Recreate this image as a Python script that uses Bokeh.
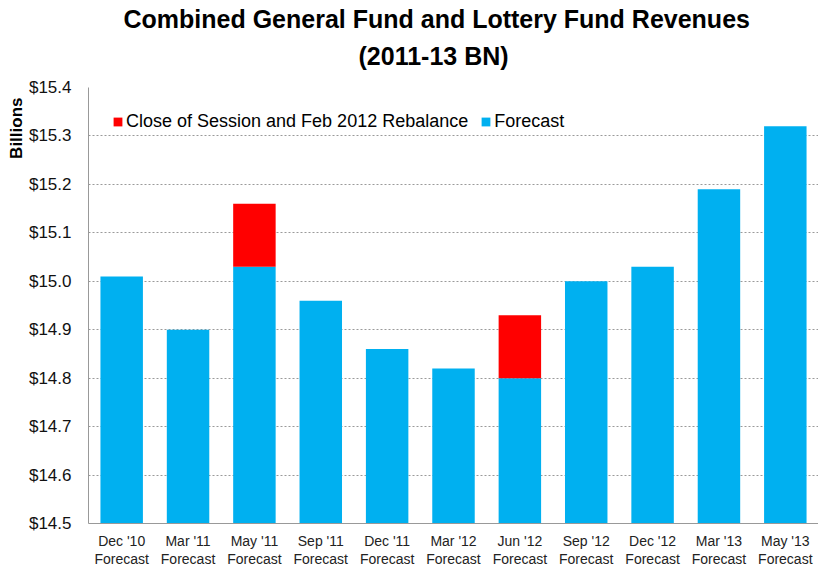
from bokeh.plotting import figure
from bokeh.models import (ColumnDataSource, Legend, LegendItem, Range1d,
                          NumeralTickFormatter, Title, LinearAxis, FixedTicker,
                          CustomJSTickFormatter)
from bokeh.embed import file_html
from bokeh.resources import INLINE

categories = ["Dec '10", "Mar '11", "May '11", "Sep '11", "Dec '11", "Mar '12",
              "Jun '12", "Sep '12", "Dec '12", "Mar '13", "May '13"]
forecast = [15.01, 14.90, 15.03, 14.96, 14.86, 14.82, 14.80, 15.00, 15.03, 15.19, 15.32]
rebalance = [0.0, 0.0, 0.13, 0.0, 0.0, 0.0, 0.13, 0.0, 0.0, 0.0, 0.0]
y_ticks = [14.5, 14.6, 14.7, 14.8, 14.9, 15.0, 15.1, 15.2, 15.3, 15.4]
second_line = "Forecast"

BLUE = "#00B0F0"
RED = "#FF0000"
FONT = "Liberation Sans"
BASE = 14.5

n = len(categories)
xpos = [i + 0.5 for i in range(n)]
src_blue = ColumnDataSource(dict(x=xpos, top=forecast, bottom=[BASE] * n))
rx = [x for x, r in zip(xpos, rebalance) if r > 0]
rb = [f for f, r in zip(forecast, rebalance) if r > 0]
rt = [f + r for f, r in zip(forecast, rebalance) if r > 0]
src_red = ColumnDataSource(dict(x=rx, bottom=rb, top=rt))

p = figure(width=818, height=575, x_range=Range1d(0, n),
           y_range=Range1d(14.5, 15.4), output_backend="svg", toolbar_location=None,
           x_axis_location=None,
           min_border_left=88, min_border_right=0, min_border_top=87, min_border_bottom=52)

p.title = None
t2 = Title(text="(2011-13 BN)", align="left", text_font=FONT, text_font_style="bold",
           text_font_size="25px", text_color="#000000", offset=270, standoff=36)
t1 = Title(text="Combined General Fund and Lottery Fund Revenues", align="left", text_font=FONT,
           text_font_style="bold", text_font_size="25px", text_color="#000000", offset=35, standoff=-22)
p.add_layout(t2, "above")
p.add_layout(t1, "above")

blue = p.vbar(x="x", top="top", bottom="bottom", width=0.64, source=src_blue,
              fill_color=BLUE, line_color=None)
red = p.vbar(x="x", top="top", bottom="bottom", width=0.64, source=src_red,
             fill_color=RED, line_color=None)

p.outline_line_color = None
p.background_fill_color = "white"
p.border_fill_color = "white"

p.xgrid.grid_line_color = None
p.ygrid.grid_line_color = "#9a9a9a"
p.ygrid.grid_line_dash = "2 2"
p.ygrid.grid_line_width = 1

p.yaxis.ticker = y_ticks
p.yaxis.formatter = NumeralTickFormatter(format="$0.0")
p.yaxis.major_tick_line_color = None
p.yaxis.minor_tick_line_color = None
p.yaxis.axis_line_color = "#999999"
p.yaxis.major_label_text_font = FONT
p.yaxis.major_label_text_font_size = "17px"
p.yaxis.major_label_text_color = "#111111"
p.yaxis.major_label_standoff = 11

ytitle = Title(text="Billions", align="right", text_font=FONT, text_font_style="bold",
               text_font_size="17px", text_color="#000000", offset=10, standoff=0)
p.add_layout(ytitle, "left")

ax1 = LinearAxis(ticker=FixedTicker(ticks=xpos),
                 formatter=CustomJSTickFormatter(args=dict(labels=categories),
                                                 code="return labels[Math.floor(tick)];"),
                 axis_line_color="#999999", major_tick_line_color=None, minor_tick_line_color=None,
                 major_label_text_font=FONT, major_label_text_font_size="14px",
                 major_label_text_color="#222222", major_label_standoff=3)
ax2 = LinearAxis(ticker=FixedTicker(ticks=xpos),
                 formatter=CustomJSTickFormatter(args=dict(label=second_line),
                                                 code="return label;"),
                 axis_line_color=None, major_tick_line_color=None, minor_tick_line_color=None,
                 major_label_text_font=FONT, major_label_text_font_size="14px",
                 major_label_text_color="#222222", major_label_standoff=-7)
p.add_layout(ax1, "below")
p.add_layout(ax2, "below")

legend = Legend(items=[LegendItem(label="Close of Session and Feb 2012 Rebalance", renderers=[red]),
                       LegendItem(label="Forecast", renderers=[blue])],
                orientation="horizontal", location="top_left",
                label_text_font=FONT, label_text_font_size="18px", label_text_color="#000000",
                glyph_width=11, glyph_height=11, label_standoff=3, spacing=12,
                border_line_color=None, background_fill_color="white", background_fill_alpha=1.0,
                margin=24, padding=14)
p.add_layout(legend, "center")

open("out.html", "w").write(file_html(p, INLINE))
